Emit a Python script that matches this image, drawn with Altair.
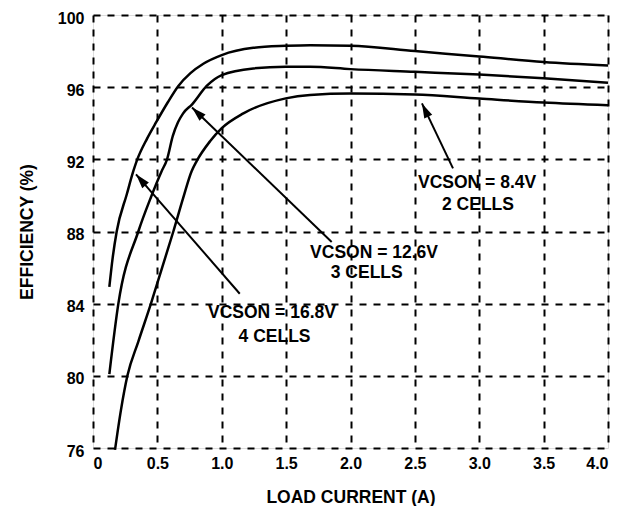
import math
import altair as alt
import pandas as pd

# ---- data ----
x_4cell = [0.127, 0.153, 0.184, 0.262, 0.313, 0.339, 0.42, 0.494, 0.58, 0.663, 0.757, 0.857, 1.0, 1.245, 1.497, 1.686, 2.0, 2.5, 3.0, 3.5, 4.0]
y_4cell = [84.93, 86.55, 88.0, 90.05, 91.34, 91.9, 93.15, 94.1, 95.15, 96.07, 96.78, 97.3, 97.78, 98.18, 98.29, 98.33, 98.3, 98.0, 97.7, 97.4, 97.2]

x_3cell = [0.127, 0.197, 0.352, 0.45, 0.533, 0.575, 0.62, 0.66, 0.70, 0.77, 0.883, 1.0, 1.245, 1.497, 1.686, 2.0, 2.5, 3.0, 3.5, 4.0]
y_3cell = [80.1, 84.0, 88.0, 89.9, 91.34, 92.0, 93.3, 94.05, 94.55, 95.05, 96.07, 96.67, 97.04, 97.13, 97.13, 97.0, 96.85, 96.7, 96.5, 96.25]

x_2cell = [0.171, 0.217, 0.267, 0.352, 0.45, 0.537, 0.624, 0.70, 0.766, 0.805, 0.909, 1.0, 1.168, 1.497, 1.686, 2.0, 2.5, 3.0, 3.5, 4.0]
y_2cell = [75.9, 78.1, 80.0, 81.9, 84.0, 86.0, 88.0, 89.85, 91.34, 91.9, 93.0, 93.73, 94.55, 95.38, 95.57, 95.65, 95.6, 95.37, 95.15, 95.0]

series_names = ["VCSON = 16.8V", "VCSON = 12.6V", "VCSON = 8.4V"]

# annotation arrows (tail -> head) in data units
arrow_tail_x = [1.14, 1.854, 2.796]
arrow_tail_y = [84.55, 87.42, 91.5]
arrow_head_x = [0.334, 0.769, 2.555]
arrow_head_y = [91.17, 94.87, 95.1]

# annotation labels
label_text = ["VCSON = 16.8V", "4 CELLS", "VCSON = 12.6V", "3 CELLS", "VCSON = 8.4V", "2 CELLS"]
label_x = [1.39, 1.41, 2.183, 2.126, 2.983, 2.99]
label_y = [83.48, 82.15, 86.79, 85.68, 90.7, 89.48]

x_ticks = [0, 0.5, 1.0, 1.5, 2.0, 2.5, 3.0, 3.5, 4.0]
y_ticks = [76, 80, 84, 88, 92, 96, 100]

# ---- layout ----
W, H = 515, 433
X_DOM, Y_DOM = [0, 4], [76, 100]
FONT = "Liberation Sans"

rows = []
for name, xs, ys in zip(series_names, [x_4cell, x_3cell, x_2cell], [y_4cell, y_3cell, y_2cell]):
    for a, b in zip(xs, ys):
        rows.append({"series": name, "x": a, "y": b})
curves = pd.DataFrame(rows)

px_x = W / (X_DOM[1] - X_DOM[0])
px_y = H / (Y_DOM[1] - Y_DOM[0])
angles = []
for tx, ty, hx, hy in zip(arrow_tail_x, arrow_tail_y, arrow_head_x, arrow_head_y):
    sx = (hx - tx) * px_x
    sy = -(hy - ty) * px_y
    angles.append(math.degrees(math.atan2(sx, -sy)) % 360)
arrows = pd.DataFrame({"x": arrow_tail_x, "y": arrow_tail_y, "x2": arrow_head_x,
                       "y2": arrow_head_y, "angle": angles})
labels = pd.DataFrame({"text": label_text, "x": label_x, "y": label_y})

xs = alt.Scale(domain=X_DOM, nice=False, zero=False)
ys = alt.Scale(domain=Y_DOM, nice=False, zero=False)

common = dict(grid=True, gridDash=[7, 7], gridColor="black", gridWidth=2, gridOpacity=1,
              domain=False, ticks=False,
              labelFont=FONT, labelFontSize=16, labelFontWeight="bold", labelColor="black",
              titleFont=FONT, titleFontSize=17.5, titleFontWeight="bold", titleColor="black")

x_axis = alt.Axis(values=x_ticks, title="LOAD CURRENT (A)",
                  labelExpr="datum.value == 0 ? '0' : format(datum.value, '.1f')",
                  labelPadding=7, titlePadding=17, **common)
y_axis = alt.Axis(values=y_ticks, title="EFFICIENCY (%)",
                  labelPadding=9, titlePadding=21, labelOffset=3, **common)

lines = alt.Chart(curves).mark_line(color="black", strokeWidth=2.5, interpolate="monotone").encode(
    x=alt.X("x:Q", scale=xs, axis=x_axis),
    y=alt.Y("y:Q", scale=ys, axis=y_axis),
    detail="series:N",
)

shafts = alt.Chart(arrows).mark_rule(color="black", strokeWidth=2).encode(
    x="x:Q", y="y:Q", x2="x2:Q", y2="y2:Q")

heads = alt.Chart(arrows).mark_point(
    shape="M0,0L-0.3,1L0.3,1Z", filled=True, color="black", opacity=1, size=850
).encode(x=alt.X("x2:Q", scale=xs), y=alt.Y("y2:Q", scale=ys), angle=alt.Angle("angle:Q", scale=None))

texts = alt.Chart(labels).mark_text(font=FONT, fontSize=17.5, fontWeight="bold", color="black").encode(
    x=alt.X("x:Q", scale=xs), y=alt.Y("y:Q", scale=ys), text="text:N")

chart = alt.layer(lines, shafts, heads, texts).properties(
    width=W, height=H,
    autosize=alt.AutoSizeParams(type="none"),
    padding={"left": 85, "top": 7, "right": 14, "bottom": 58},
).configure_view(stroke="black", strokeWidth=2.5).configure(background="white")

chart.save("out.html", embed_options={"renderer": "svg", "actions": False})
